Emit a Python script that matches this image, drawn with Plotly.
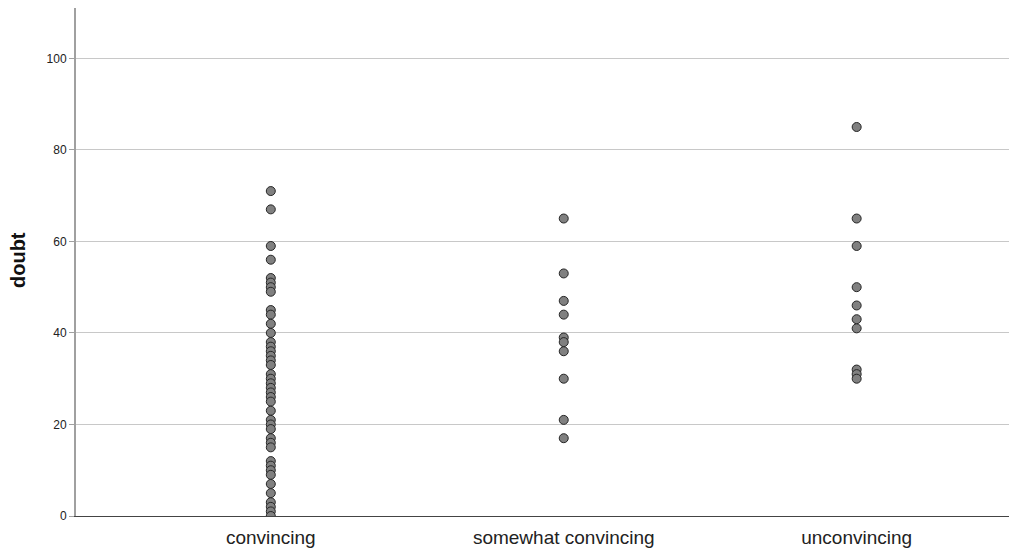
import plotly.graph_objects as go

# Scores of "doubt" by how convincing the message was rated
categories = ["convincing", "somewhat convincing", "unconvincing"]

convincing = [71, 67, 59, 56, 52, 51, 50, 49, 45, 44, 42, 40, 38, 37, 36, 35,
              34, 33, 31, 30, 29, 28, 27, 26, 25, 23, 21, 20, 19, 17, 16, 15,
              12, 11, 10, 9, 7, 5, 3, 2, 1, 0]
somewhat_convincing = [65, 53, 47, 44, 39, 38, 36, 30, 21, 17]
unconvincing = [85, 65, 59, 50, 46, 43, 41, 32, 31, 30]

y_ticks = [0, 20, 40, 60, 80, 100]

groups = [convincing, somewhat_convincing, unconvincing]
xs, ys = [], []
for cat, vals in zip(categories, groups):
    xs += [cat] * len(vals)
    ys += vals

fig = go.Figure(
    go.Scatter(
        x=xs, y=ys, mode="markers",
        marker=dict(size=9, color="#808080",
                    line=dict(width=1, color="#262626")),
        hoverinfo="x+y",
    )
)

fig.update_layout(
    width=1019, height=549,
    margin=dict(l=76, r=10, t=8, b=33),
    paper_bgcolor="white", plot_bgcolor="white",
    showlegend=False,
    font=dict(family="Liberation Sans, Arial, sans-serif", color="#222"),
    annotations=[dict(
        text="<b>doubt</b>", textangle=-90,
        xref="paper", yref="paper", x=0, y=0.5,
        xanchor="center", yanchor="middle", xshift=-58, yshift=2,
        showarrow=False, font=dict(size=20, color="#111"),
    )],
)

fig.update_xaxes(
    type="category", categoryorder="array", categoryarray=categories,
    range=[-0.665, 2.52], automargin=False,
    showgrid=False, zeroline=False,
    showline=True, linecolor="#444", linewidth=1,
    ticks="", ticklabelstandoff=4,
    tickfont=dict(size=19, color="#222"),
)

fig.update_yaxes(
    range=[0, 111], tickvals=y_ticks, automargin=False,
    showgrid=True, gridcolor="#c8c8c8", gridwidth=1,
    zeroline=False,
    showline=True, linecolor="#a0a0a0", linewidth=2,
    ticks="outside", ticklen=5, tickcolor="#a0a0a0",
    tickfont=dict(size=12, color="#222"),
)

fig.write_html("out.html")
